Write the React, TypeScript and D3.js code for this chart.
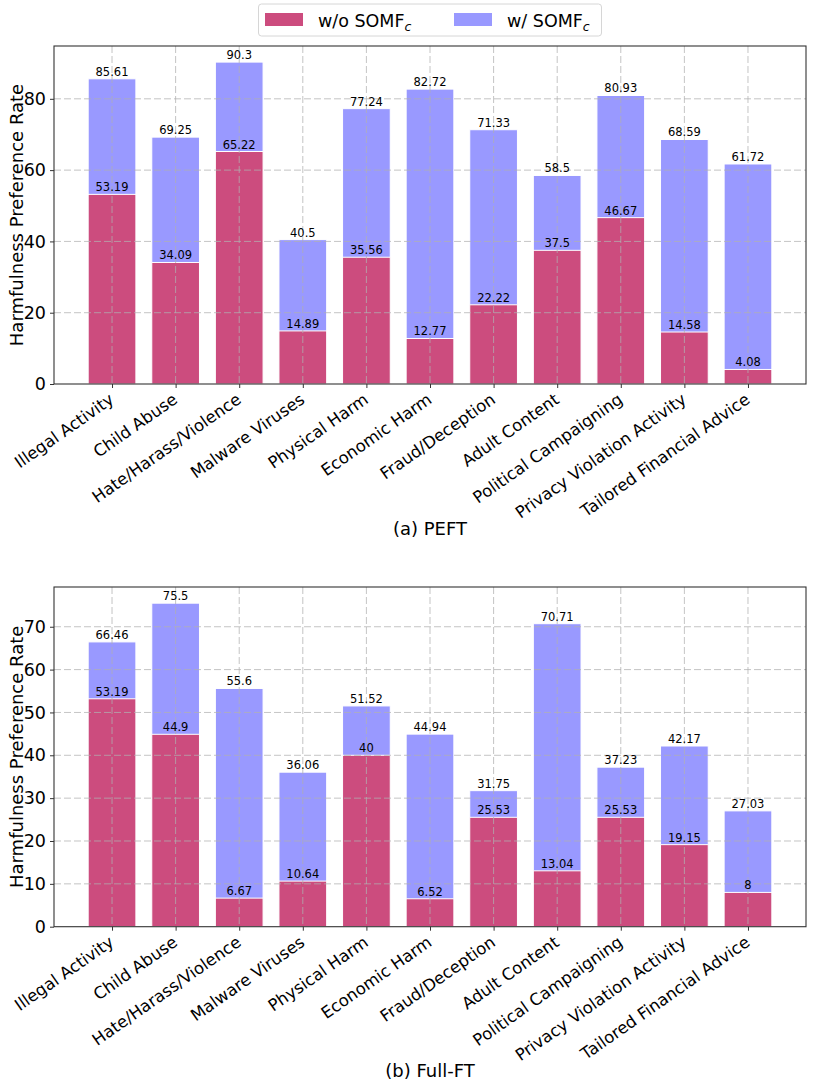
import { useEffect, useRef } from 'react';
import * as d3 from 'd3';

const categories = [
  'Illegal Activity',
  'Child Abuse',
  'Hate/Harass/Violence',
  'Malware Viruses',
  'Physical Harm',
  'Economic Harm',
  'Fraud/Deception',
  'Adult Content',
  'Political Campaigning',
  'Privacy Violation Activity',
  'Tailored Financial Advice',
];

const peftWithout = [53.19, 34.09, 65.22, 14.89, 35.56, 12.77, 22.22, 37.5, 46.67, 14.58, 4.08];
const peftWith = [85.61, 69.25, 90.3, 40.5, 77.24, 82.72, 71.33, 58.5, 80.93, 68.59, 61.72];

const fullWithout = [53.19, 44.9, 6.67, 10.64, 40, 6.52, 25.53, 13.04, 25.53, 19.15, 8];
const fullWith = [66.46, 75.5, 55.6, 36.06, 51.52, 44.94, 31.75, 70.71, 37.23, 42.17, 27.03];

const peftTicks = [0, 20, 40, 60, 80];
const fullTicks = [0, 10, 20, 30, 40, 50, 60, 70];

const COLOR_WITHOUT = '#cc4c7e';
const COLOR_WITH = '#9999ff';
const FONT = '"DejaVu Sans", sans-serif';

const W = 814;
const H = 1088;

export default function App() {
  const svgRef = useRef<SVGSVGElement>(null);

  useEffect(() => {
    if (!svgRef.current) return;
    const svg = d3.select(svgRef.current);
    svg.selectAll('*').remove();

    const left = 54;
    const right = 806;

    function drawPanel(
      top: number,
      bottom: number,
      without: number[],
      withS: number[],
      ticks: number[],
      title: string,
      titleY: number
    ) {
      const maxV = d3.max(withS) || 0;
      const y = d3.scaleLinear().domain([0, maxV * 1.05]).range([bottom, top]);
      // matplotlib style margins: bars of width 0.75 plus 5% padding
      const span = categories.length - 1 + 0.75;
      const pad = span * 0.05;
      const x = d3
        .scaleLinear()
        .domain([-0.375 - pad, categories.length - 1 + 0.375 + pad])
        .range([left, right]);
      const bw = x(0.75) - x(0);

      const g = svg.append('g');

      // bars (w/ first, w/o on top)
      g.selectAll('.bw')
        .data(withS)
        .join('rect')
        .attr('x', (_, i) => x(i) - bw / 2)
        .attr('y', d => y(d))
        .attr('width', bw)
        .attr('height', d => bottom - y(d))
        .attr('fill', COLOR_WITH)
        .attr('stroke', '#fff')
        .attr('stroke-width', 1);

      g.selectAll('.bwo')
        .data(without)
        .join('rect')
        .attr('x', (_, i) => x(i) - bw / 2)
        .attr('y', d => y(d))
        .attr('width', bw)
        .attr('height', d => bottom - y(d))
        .attr('fill', COLOR_WITHOUT)
        .attr('stroke', '#fff')
        .attr('stroke-width', 1);

      // grid over bars
      const grid = g.append('g')
        .attr('stroke', '#b0b0b0')
        .attr('stroke-opacity', 0.75)
        .attr('stroke-width', 1)
        .attr('stroke-dasharray', '7,3');
      grid.selectAll('.hg')
        .data(ticks.filter(t => t > 0))
        .join('line')
        .attr('x1', left)
        .attr('x2', right)
        .attr('y1', d => y(d))
        .attr('y2', d => y(d));
      grid.selectAll('.vg')
        .data(categories.map((_, i) => i))
        .join('line')
        .attr('x1', d => x(d))
        .attr('x2', d => x(d))
        .attr('y1', top)
        .attr('y2', bottom);

      // value labels
      const labels = g.append('g')
        .attr('font-family', FONT)
        .attr('font-size', 11.5)
        .attr('fill', '#000')
        .attr('text-anchor', 'middle');
      labels.selectAll('.lw')
        .data(withS)
        .join('text')
        .attr('x', (_, i) => x(i))
        .attr('y', d => y(d) - 3)
        .text(d => String(d));
      labels.selectAll('.lwo')
        .data(without)
        .join('text')
        .attr('x', (_, i) => x(i))
        .attr('y', d => y(d) - 3)
        .text(d => String(d));

      // frame
      g.append('rect')
        .attr('x', left)
        .attr('y', top)
        .attr('width', right - left)
        .attr('height', bottom - top)
        .attr('fill', 'none')
        .attr('stroke', '#333')
        .attr('stroke-width', 1.1);

      // y axis
      const yAxis = g.append('g')
        .attr('transform', `translate(${left},0)`)
        .call(d3.axisLeft(y).tickValues(ticks).tickSize(4).tickPadding(4).tickFormat(d3.format('d')));
      yAxis.select('.domain').remove();
      yAxis.selectAll('line').attr('stroke', '#333');
      yAxis.selectAll('text')
        .attr('font-family', FONT)
        .attr('font-size', 17.5)
        .attr('fill', '#000');

      // x axis ticks
      const xAxis = g.append('g')
        .attr('transform', `translate(0,${bottom})`)
        .call(d3.axisBottom(x).tickValues(categories.map((_, i) => i)).tickSize(4).tickFormat(() => ''));
      xAxis.select('.domain').remove();
      xAxis.selectAll('line').attr('stroke', '#333');

      // category labels
      g.append('g')
        .selectAll('text')
        .data(categories)
        .join('text')
        .attr('transform', (_, i) => `translate(${x(i) + 3},${bottom + 18}) rotate(-35)`)
        .attr('text-anchor', 'end')
        .attr('font-family', FONT)
        .attr('font-size', 16.5)
        .attr('fill', '#000')
        .text(d => d);

      // y label
      g.append('text')
        .attr('transform', `translate(23,${(top + bottom) / 2}) rotate(-90)`)
        .attr('text-anchor', 'middle')
        .attr('font-family', FONT)
        .attr('font-size', 18)
        .attr('fill', '#000')
        .text('Harmfulness Preference Rate');

      // title
      g.append('text')
        .attr('x', (left + right) / 2)
        .attr('y', titleY)
        .attr('text-anchor', 'middle')
        .attr('font-family', FONT)
        .attr('font-size', 18)
        .attr('fill', '#000')
        .text(title);
    }

    drawPanel(46, 384, peftWithout, peftWith, peftTicks, '(a) PEFT', 535);
    drawPanel(587, 926.7, fullWithout, fullWith, fullTicks, '(b) Full-FT', 1077);

    // legend
    const lg = svg.append('g');
    lg.append('rect')
      .attr('x', 258.5)
      .attr('y', 4)
      .attr('width', 343)
      .attr('height', 32)
      .attr('rx', 3)
      .attr('fill', '#fff')
      .attr('stroke', '#d6d6d6');
    const items = [
      { label: 'w/o SOMF', color: COLOR_WITHOUT, x: 265 },
      { label: 'w/ SOMF', color: COLOR_WITH, x: 454 },
    ];
    items.forEach(it => {
      lg.append('rect')
        .attr('x', it.x)
        .attr('y', 13)
        .attr('width', 38)
        .attr('height', 13)
        .attr('fill', it.color);
      const t = lg.append('text')
        .attr('x', it.x + 53)
        .attr('y', 27)
        .attr('font-family', FONT)
        .attr('font-size', 17.5)
        .attr('fill', '#000');
      t.append('tspan').text(it.label);
      t.append('tspan')
        .attr('dy', 4)
        .attr('font-size', 12.5)
        .attr('font-style', 'italic')
        .text('c');
    });
  }, []);

  return (
    <div style={{ position: 'absolute', left: 0, top: 0 }}>
      <svg ref={svgRef} width={W} height={H} style={{ display: 'block', background: '#fff' }} />
    </div>
  );
}
